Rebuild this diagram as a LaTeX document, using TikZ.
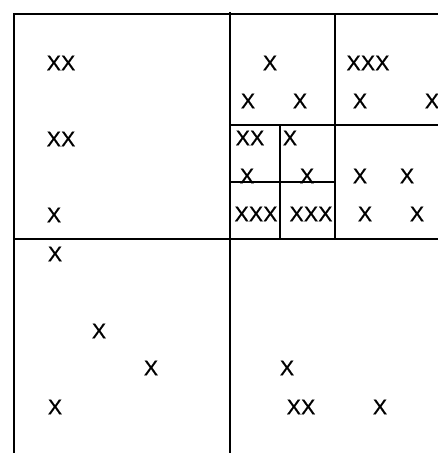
\documentclass[tikz,border=0pt]{standalone}
\usepackage{fontspec}
\setmainfont{Liberation Sans}
\newfontfamily\heavyx[FakeBold=0.6]{Liberation Sans}
\begin{document}
\begin{tikzpicture}[x=1pt,y=-1pt,
  grid/.style={line width=2.5pt,black},
  xlabel/.style={inner sep=0pt,font=\heavyx\fontsize{21.5}{25}\selectfont}]
\useasboundingbox (0,0) rectangle (438,453);
% lines
\draw[grid] (14,453) -- (14,14) -- (438,14);
\draw[grid] (230,12) -- (230,453);
\draw[grid] (14,239) -- (438,239);
\draw[grid] (335,14) -- (335,239);
\draw[grid] (230,125) -- (438,125);
\draw[grid] (280,125) -- (280,239);
\draw[grid] (230,182) -- (335,182);
% left top quadrant
\node[xlabel] (a1) at (61,63) {XX};
\node[xlabel] (a2) at (61,139) {XX};
\node[xlabel] (a3) at (54,215) {X};
% top middle cell
\node[xlabel] (b1) at (270,63) {X};
\node[xlabel] (b2) at (248,101) {X};
\node[xlabel] (b3) at (300,101) {X};
% top right cell
\node[xlabel] (c1) at (368,63) {XXX};
\node[xlabel] (c2) at (360,101) {X};
\node[xlabel] (c3) at (432,101) {X};
% small cells
\node[xlabel] (d1) at (250,138) {XX};
\node[xlabel] (d2) at (290,138) {X};
\node[xlabel] (d3) at (247,176) {X};
\node[xlabel] (d4) at (307,176) {X};
\node[xlabel] (d5) at (256,214) {XXX};
\node[xlabel] (d6) at (311,214) {XXX};
% lower right cell of top right quadrant
\node[xlabel] (e1) at (360,176) {X};
\node[xlabel] (e2) at (407,176) {X};
\node[xlabel] (e3) at (365,214) {X};
\node[xlabel] (e4) at (417,214) {X};
% bottom left quadrant
\node[xlabel] (f1) at (55,254) {X};
\node[xlabel] (f2) at (99,331) {X};
\node[xlabel] (f3) at (151,368) {X};
\node[xlabel] (f4) at (55,407) {X};
% bottom right quadrant
\node[xlabel] (g1) at (287,368) {X};
\node[xlabel] (g2) at (301,407) {XX};
\node[xlabel] (g3) at (380,407) {X};
\end{tikzpicture}
\end{document}
